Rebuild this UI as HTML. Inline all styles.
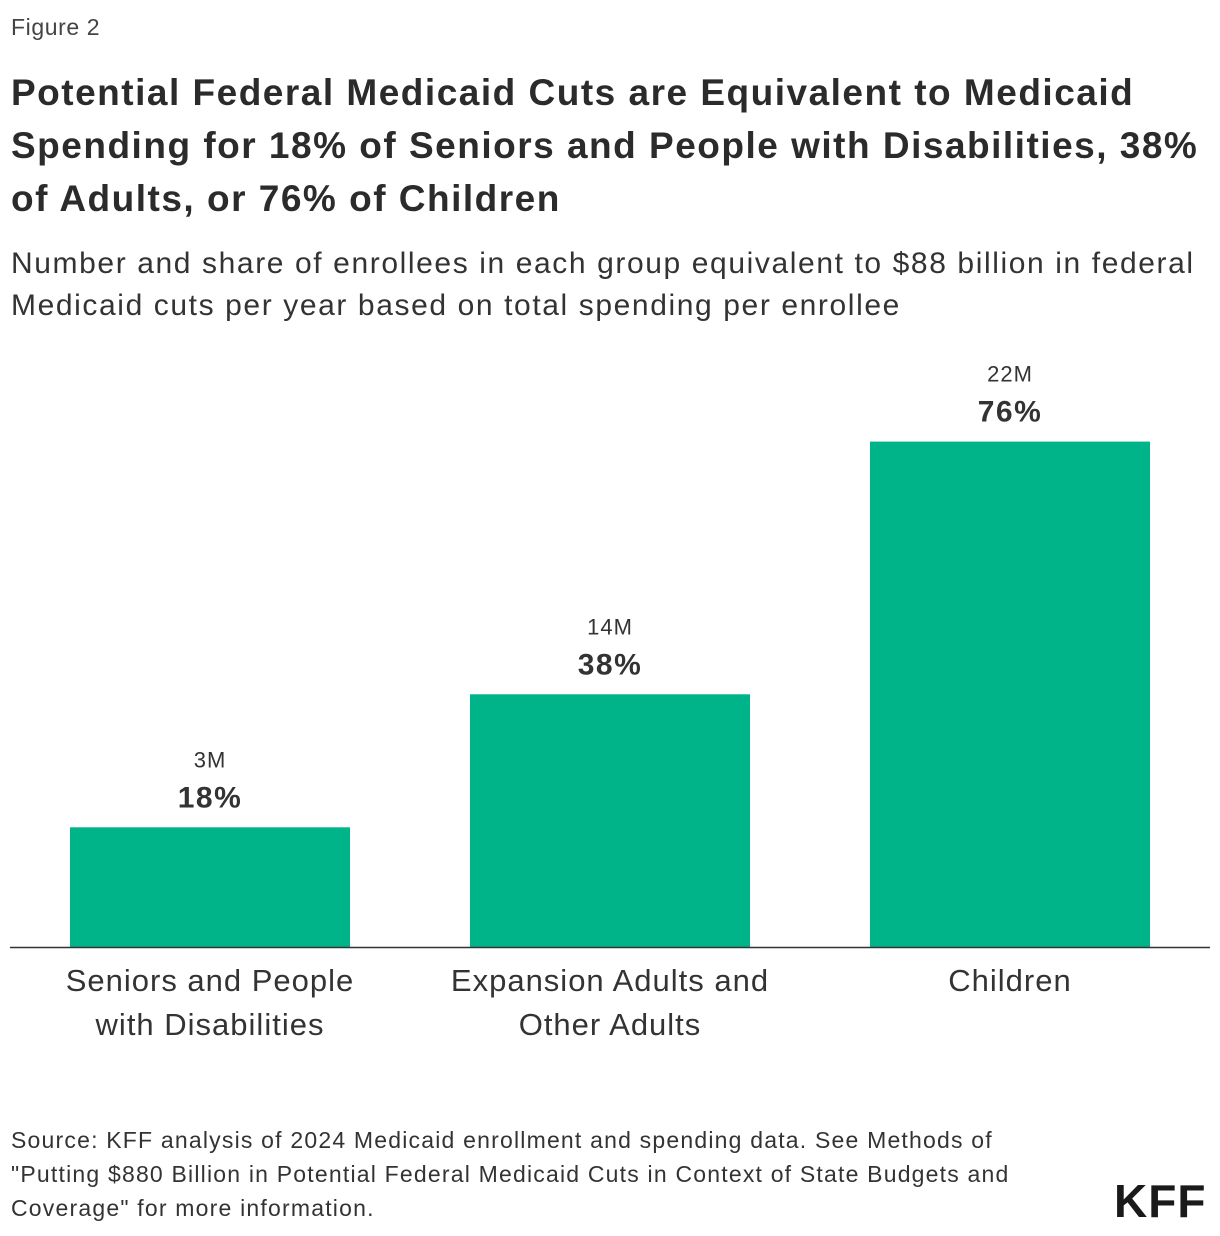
<!DOCTYPE html>
<html><head><meta charset="utf-8"><style>
body{margin:0;width:1220px;height:1236px;background:#fff;font-family:"Liberation Sans",sans-serif;color:#333;position:relative;overflow:hidden}
.abs{position:absolute;white-space:nowrap}
</style></head><body>
<div class="abs" style="left:11px;top:14px;font-size:23px;letter-spacing:0.6px;color:#444">Figure 2</div>
<div class="abs" style="left:11px;top:66px;font-size:37px;font-weight:bold;line-height:53px;color:#2b2b2b;letter-spacing:1.5px">Potential Federal Medicaid Cuts are Equivalent to Medicaid<br>Spending for 18% of Seniors and People with Disabilities, 38%<br>of Adults, or 76% of Children</div>
<div class="abs" style="left:11px;top:243px;font-size:30px;line-height:42px;color:#333;letter-spacing:1.6px">Number and share of enrollees in each group equivalent to $88 billion in federal<br>Medicaid cuts per year based on total spending per enrollee</div>
<svg id="chart" width="1220" height="1236" style="position:absolute;left:0;top:0"></svg>
<div class="abs" style="left:11px;top:1123px;font-size:23px;line-height:34px;color:#333;letter-spacing:1.2px">Source: KFF analysis of 2024 Medicaid enrollment and spending data. See Methods of<br>"Putting $880 Billion in Potential Federal Medicaid Cuts in Context of State Budgets and<br>Coverage" for more information.</div>
<div class="abs" style="left:1114px;top:1174px;font-size:46px;font-weight:bold;color:#1a1a1a;letter-spacing:1px">KFF</div>
<script>
const categories=[["Seniors and People","with Disabilities"],["Expansion Adults and","Other Adults"],["Children"]];
const shares=[18,38,76];
const counts=["3M","14M","22M"];
const svg=document.getElementById('chart');
const NS='http://www.w3.org/2000/svg';
const base=947, pxPer=6.65, barW=280;
function y(v){return base-v*pxPer;}
function xc(i){return 210+i*400;}
function el(t,a){const e=document.createElementNS(NS,t);for(const k in a)e.setAttribute(k,a[k]);svg.appendChild(e);return e;}
shares.forEach((v,i)=>{
  const r=el('rect',{x:xc(i)-barW/2,y:y(v),width:barW,height:base-y(v),fill:'#00b48a'});
  
  
  const c=el('text',{x:xc(i),y:y(v)-60,'text-anchor':'middle','font-size':'22','letter-spacing':'1',fill:'#333','font-family':'Liberation Sans'});
  c.textContent=counts[i];
  
  
  const p=el('text',{x:xc(i),y:y(v)-20,'text-anchor':'middle','font-size':'30','letter-spacing':'1.5','font-weight':'bold',fill:'#333','font-family':'Liberation Sans'});
  p.textContent=v+'%';
  
  
  categories[i].forEach((ln,j)=>{
    const t=el('text',{x:xc(i),y:991+j*44,'text-anchor':'middle','font-size':'31',fill:'#333','font-family':'Liberation Sans','letter-spacing':'1'});
    t.textContent=ln;
    
    
  });
});
const ax=el('line',{x1:10,x2:1210,y1:base+0.5,y2:base+0.5,stroke:'#333','stroke-width':1.5});


</script>
</body></html>
